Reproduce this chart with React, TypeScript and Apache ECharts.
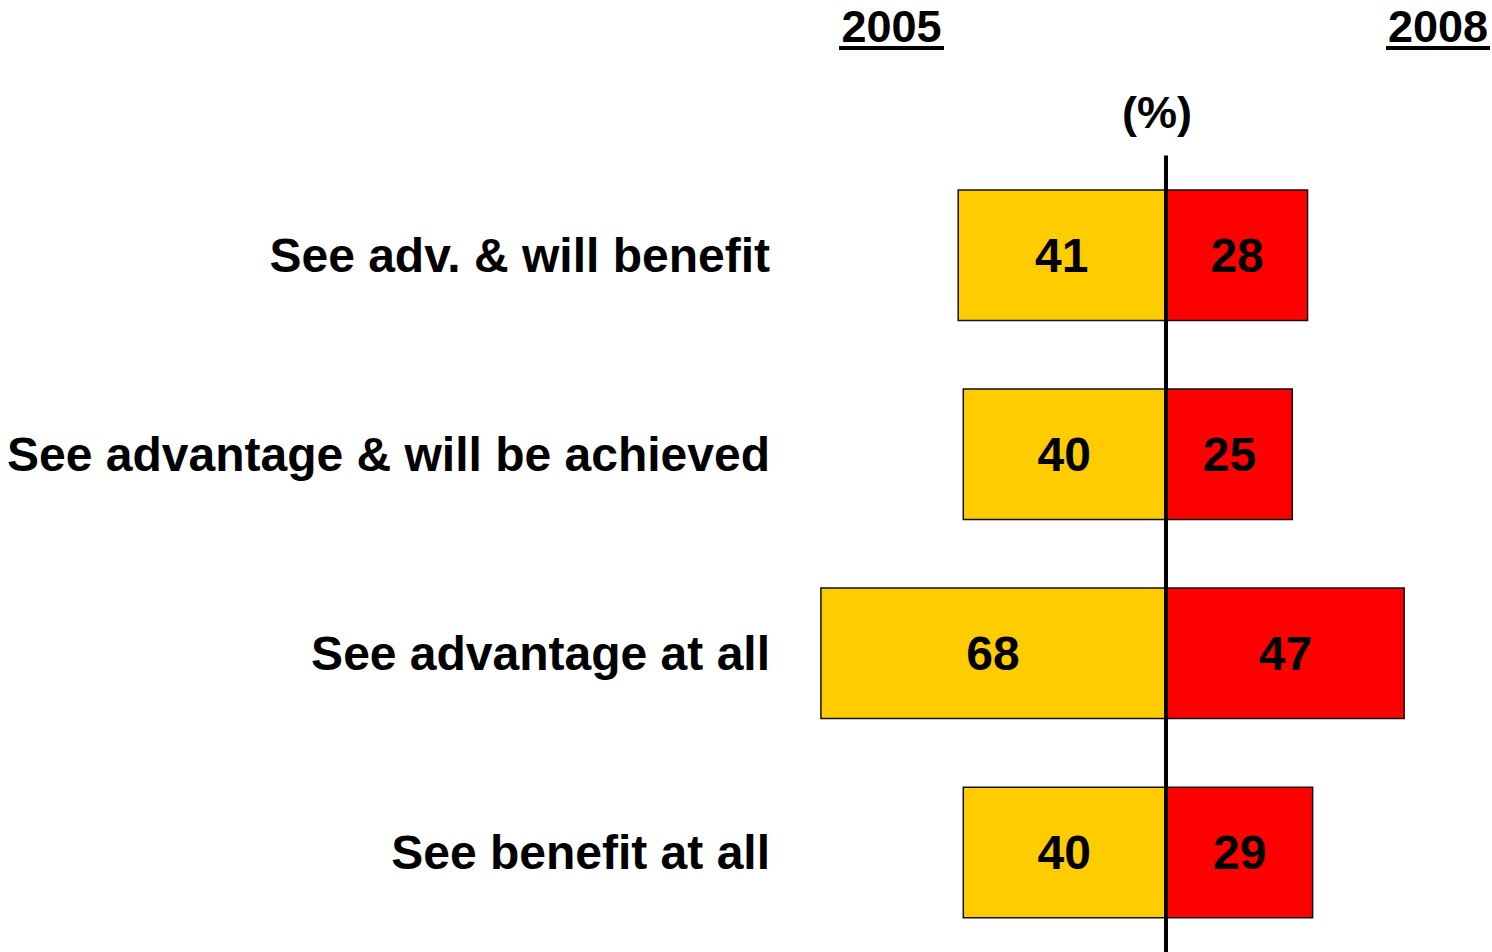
import React, { useEffect, useRef } from "react";
import * as echarts from "echarts";

const categories = [
  "See adv. & will benefit",
  "See advantage & will be achieved",
  "See advantage at all",
  "See benefit at all",
];
const values2005 = [41, 40, 68, 40];
const values2008 = [28, 25, 47, 29];
const yearLabels = ["2005", "2008"];
const unitLabel = "(%)";

const FONT = "'Liberation Sans', Arial, Helvetica, sans-serif";

export default function App() {
  const ref = useRef<HTMLDivElement>(null);
  useEffect(() => {
    if (!ref.current) return;
    const chart = echarts.init(ref.current, undefined, { renderer: "svg" });
    const labelStyle = {
      show: true,
      position: "inside",
      fontSize: 48,
      fontWeight: "bold",
      color: "#000",
      fontFamily: FONT,
      formatter: (p: any) => String(Math.abs(p.value)),
    };
    const titleStyle = (text: string) => ({
      text,
      fontSize: 45,
      lineHeight: 45,
      fontWeight: "bold",
      fontFamily: FONT,
      fill: "#000",
      textAlign: "center",
      textVerticalAlign: "middle",
    });
    chart.setOption({
      animation: false,
      backgroundColor: "#fff",
      grid: { left: 810, right: 21, top: 155.6, bottom: 0, containLabel: false },
      xAxis: {
        type: "value",
        min: -70,
        max: 60,
        show: false,
        splitLine: { show: false },
      },
      yAxis: {
        type: "category",
        inverse: true,
        data: categories,
        axisLine: { show: false },
        axisTick: { show: false },
        splitLine: { show: false },
        axisLabel: {
          fontSize: 48,
          fontWeight: "bold",
          color: "#000",
          fontFamily: FONT,
          margin: 40,
          padding: [4, 0, 0, 0],
        },
      },
      series: [
        {
          name: yearLabels[0],
          type: "bar",
          barWidth: 132,
          barGap: "-100%",
          data: values2005.map((v) => -v),
          itemStyle: { color: "#FFCC00", borderColor: "#111", borderWidth: 1.5 },
          label: labelStyle,
        },
        {
          name: yearLabels[1],
          type: "bar",
          barWidth: 132,
          barGap: "-100%",
          data: values2008,
          itemStyle: { color: "#FF0000", borderColor: "#111", borderWidth: 1.5 },
          label: labelStyle,
          markLine: {
            silent: true,
            symbol: "none",
            label: { show: false },
            lineStyle: { color: "#000", width: 4, type: "solid" },
            data: [{ xAxis: 0 }],
            z: 10,
          },
        },
      ],
      graphic: [
        { type: "text", x: 891.5, y: 26, style: titleStyle(yearLabels[0]) },
        { type: "rect", shape: { x: 839, y: 46, width: 105, height: 4 }, style: { fill: "#000" } },
        { type: "text", x: 1438, y: 26, style: titleStyle(yearLabels[1]) },
        { type: "rect", shape: { x: 1386, y: 46, width: 104, height: 4 }, style: { fill: "#000" } },
        { type: "text", x: 1157, y: 112, style: titleStyle(unitLabel) },
      ],
    });
    return () => chart.dispose();
  }, []);
  return (
    <div
      ref={ref}
      style={{ position: "absolute", left: 0, top: 0, width: 1492, height: 952 }}
    />
  );
}
